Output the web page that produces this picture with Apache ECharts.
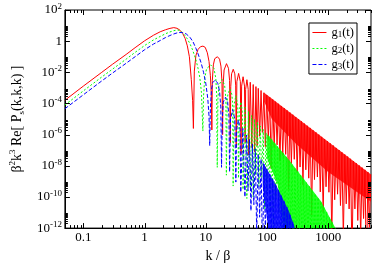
<!DOCTYPE html>
<html><head><meta charset="utf-8">
<script src="https://cdn.jsdelivr.net/npm/echarts@6/dist/echarts.min.js"></script>
<style>html,body{margin:0;padding:0;background:#fff}#c{width:374px;height:268px}</style>
</head><body><div id="c"></div>
<script>
// ---- tick labels ----
const xTickValues = [0.1, 1, 10, 100, 1000];
const xTickLabels = ['0.1', '1', '10', '100', '1000'];
const xMinorDecades = [0.01, 0.1, 1, 10, 100, 1000];
const yTickExps = [2, 0, -2, -4, -6, -8, -10, -12];
const minorMantissas = [2, 3, 4, 5, 6, 7, 8, 9];
const seriesNames = ['g1(t)', 'g2(t)', 'g3(t)'];
const seriesColors = ['#ff0000', '#00ff00', '#0000ff'];

// ---- g1(t): [k/beta, value] ----
const g1Points = [
 [0.05,1.6e-4],[0.1,1.3e-3],[0.2,1.0e-2],[0.3,3.3e-2],[0.5,0.14],[0.7,0.38],[1.0,1.05],[1.4,2.4],[1.8,4.0],
 [2.2,5.4],[2.6,6.6],[3.0,7.4],[3.4,6.7],[3.8,5.0],[4.2,3.1],[4.6,1.5],[5.0,0.5],[5.4,0.1],[5.8,3.5e-3],[6.1,1.5e-4],[6.28,2.5e-6],
 [6.5,0.012],[6.9,0.12],[7.5,0.3],[8.2,0.44],[9.0,0.48],[9.8,0.4],[10.6,0.18],[11.3,0.05],[11.9,6e-3],[12.3,4e-4],[12.57,2e-6],
 [12.8,3e-3],[13.3,0.03],[14.0,0.075],[15.5,0.1],[16.8,0.07],[17.7,0.025],[18.4,2.5e-3],[18.85,1e-6],
 [19.2,1.5e-3],[19.9,0.014],[21.8,0.036],[23.5,0.018],[24.5,3e-3],[25.13,3e-7],
 [25.6,1.2e-3],[26.4,8e-3],[28.1,0.0157],[29.8,8e-3],[30.8,1.5e-3],[31.42,1.5e-7],
 [32.2,2.5e-3],[34.4,8.5e-3],[36.7,2.5e-3],[37.7,6e-8],
 [38.5,1.3e-3],[40.7,5.2e-3],[42.9,1.3e-3],[44.0,3e-7],
 [44.8,8e-4],[47.0,3.35e-3],[49.3,8e-4],[50.3,5e-8],
 [53.3,2.3e-3],[56.5,1.5e-7],[59.6,1.64e-3],[62.8,8e-8],[66,1.21e-3],[69.1,2e-7],
 [72,9.3e-4],[76,7.9e-7],[80,6.8e-4],[84,1.4e-6],[89,4.9e-4],[94,1.7e-7],[99,3.5e-4],[105,4.8e-7],
 [111,2.5e-4],[117,6.8e-9],[124,1.8e-4],[131,1.5e-7],[138,1.3e-4],[146,2.2e-7],[154,9.5e-5],[163,2.0e-8],
 [171,6.9e-5],[181,4.7e-8],[191,5.0e-5],[202,5.4e-8],[213,3.6e-5],[225,3.1e-10],[237,2.6e-5],[250,1.4e-8],
 [264,1.9e-5],[279,2.6e-8],[295,1.35e-5],[311,3.6e-9],[328,9.8e-6],[347,8.3e-9],[366,7.1e-6],[387,6.0e-10],
 [408,5.1e-6],[431,5.5e-9],[455,3.7e-6],[481,1.6e-9],[507,2.7e-6],[536,7e-12],[565,1.9e-6],[597,1.3e-9],
 [630,1.4e-6],[666,1.9e-9],[702,1.0e-6],[742,2.1e-10],[782,7.2e-7],[827,9.8e-12],[872,5.2e-7],[922,4.5e-10],
 [972,3.8e-7],[1027,2.0e-10],[1083,2.7e-7],[1145,2.3e-13],[1207,2.0e-7],[1276,6.6e-11],[1346,1.4e-7],[1422,1.5e-10],
 [1500,1.03e-7],[1585,2.8e-11],[1672,7.4e-8],[1767,2e-13],[1864,5.3e-8],[1970,3.6e-11],[2078,3.9e-8],[2196,1.7e-11],
 [2316,2.8e-8],[2448,8e-15],[2582,2.0e-8],[2729,1.7e-11],[2878,1.45e-8],[3042,3.1e-12],[3208,1.05e-8],[3391,2.8e-13],
 [3576,7.6e-9],[3780,4.1e-12],[3986,5.5e-9],[4214,5e-16],[4443,4.0e-9],[4697,1.1e-12],[4953,2.8e-9],[5000,2.7e-9]
];
// dense (unresolved) part of g1: upper edge and lower edge of the filled band
const g1BandTop = [[90,4.8e-4],[5000,2.8e-9]];
const g1BandBottom = [[5000,5e-11],[1000,4e-9],[300,2.5e-7],[120,1e-5],[90,1.3e-4]];

// ---- g2(t) ----
const g2Points = [
 [0.05,8e-5],[0.1,6.4e-4],[0.2,5.0e-3],[0.3,1.6e-2],[0.5,0.07],[0.7,0.19],[1.0,0.52],[1.4,1.2],[1.8,2.0],
 [2.2,3.0],[2.6,3.9],[3.0,4.7],[3.5,5.3],[4.0,4.0],[4.5,2.5],[5.0,1.4],[5.5,0.7],[6.0,0.32],[6.5,0.13],
 [7.0,0.052],[7.5,0.017],[8.0,4.5e-3],[8.5,5e-4],[8.97,1.7e-6],
 [9.2,3e-4],[9.6,4e-3],[10.3,0.017],[12.0,0.03],[13.6,0.018],[14.6,4e-3],[15.1,3e-4],[15.4,8e-9],
 [15.8,2e-4],[16.4,1.5e-3],[18.4,3.5e-3],[20.3,1.5e-3],[21.3,2e-4],[21.7,2.5e-9],
 [22.4,1.5e-4],[23.0,4e-4],[24.8,8.5e-4],[26.6,4e-4],[27.4,1.2e-4],[28.0,5e-10],
 [28.9,8e-5],[31.0,3.2e-4],[33.3,8e-5],[34.3,1.6e-9],
 [35.2,3e-5],[37.4,1.26e-4],[39.6,3e-5],[40.6,3e-10],
 [43.7,5.9e-5],[46.9,8e-11],[50.0,3.1e-5],[53.2,4e-10],[56.3,1.7e-5],[59.5,1e-10],
 [62.6,1.0e-5],[66.1,2.5e-9],[69.8,6.0e-6],[73.7,4.8e-10],[77.8,3.6e-6],[82.2,1.8e-9],[86.7,2.2e-6],[91.6,1.7e-11],
 [96.7,1.3e-6],[102,1.7e-10],[107.8,7.9e-7],[114,2e-11],[120,4.8e-7],[127,3.8e-13],[134,2.9e-7],[141,7.2e-11],
 [149,1.7e-7],[157,8.7e-12],[166,1.05e-7],[175,8e-15],[185,6.3e-8],[195,7.9e-12],[207,3.8e-8],[219,3e-13],
 [230,2.3e-8],[243,1.8e-12],[257,1.3e-8],[271,1e-14],[286,7.6e-9],[302,6e-14],[319,4.4e-9],[337,3.5e-13],
 [356,2.5e-9],[376,2e-15],[397,1.4e-9],[419,3e-14],[442,8.3e-10],[467,1e-13],[493,4.8e-10],[521,1e-13],
 [549,2.8e-10],[580,1e-13],[612,1.6e-10],[646,1e-13],[683,9.1e-11],[721,1e-13],[761,5.2e-11],[804,1e-13],
 [848,2.4e-11],[895,1e-13],[945,1.1e-11],[998,1e-13],[1054,4.9e-12],[1113,1e-13],[1175,2.2e-12],[1240,1e-13],
 [1310,1e-12],[1400,1e-13]
];
const g2BandTop = [[100,1.1e-6],[228,2.4e-8],[762,5.2e-11],[1312,1e-12]];
const g2BandBottom = [[1312,1e-12],[190,1e-12],[150,6e-10],[100,3e-8]];

// ---- g3(t) ----
const g3Points = [
 [0.05,4.6e-5],[0.1,3.6e-4],[0.2,2.8e-3],[0.3,9e-3],[0.5,0.038],[0.7,0.1],[1.0,0.28],[1.4,0.65],[1.8,1.1],
 [2.2,1.7],[2.6,2.3],[3.0,2.9],[3.4,3.4],[3.8,3.6],[4.2,3.5],[4.8,2.9],[5.5,1.8],[6.2,0.9],[6.9,0.35],
 [7.6,0.13],[8.4,0.04],[9.2,0.01],[10.0,2e-3],[10.8,2e-4],[11.3,1.5e-5],[11.6,2e-7],
 [11.9,5e-5],[12.4,8e-4],[13.0,2.2e-3],[14.3,3.2e-3],[15.7,2e-3],[16.8,6e-4],[17.6,6e-5],[18.1,8e-9],
 [18.6,1e-5],[19.3,1.2e-4],[21.0,2.5e-4],[22.8,1.2e-4],[23.9,1.5e-5],[24.5,4e-9],
 [25.4,1e-5],[27.5,4e-5],[29.8,1e-5],[31.0,9e-10],
 [32.0,2.2e-6],[34.0,9e-6],[36.3,2.2e-6],[37.3,2e-10],
 [40.3,2.5e-6],[43.6,1e-10],
 [46.5,9.5e-7],[49,2.5e-10],[51.8,4.9e-7],[54.7,1.3e-11],[57.8,2.5e-7],[61,3.2e-11],[64.4,1.2e-7],[68,3e-13],
 [71.8,5.7e-8],[75.8,5e-12],[80,2.7e-8],[84.5,1e-14],[89.2,1.3e-8],[94.2,6e-13],[99.5,6e-9],[105,1e-14],
 [111,2.9e-9],[117,3e-13],[124,1.35e-9],[131,1e-14],[138,6.4e-10],[146,1e-14],[154,2.7e-10],[163,1e-14],
 [171,1.2e-10],[181,1e-14],[191,5.1e-11],[202,1e-14],[213,2.2e-11],[225,1e-14],[237,8.2e-12],[250,1e-14],
 [264,2.5e-12],[279,1e-14],[295,7.4e-13]
];
const g3BandTop = [[85,1.8e-8],[141,5.6e-10],[228,1.26e-11],[287,1e-12]];
const g3BandBottom = [[287,1e-12],[105,1e-12],[85,5e-10]];

const X_MIN = 0.05, X_MAX = 5000, Y_MIN = 1e-12, Y_MAX = 1e2;
const serif = 'Liberation Serif';

// tick marks (inward, on all four sides)
const tickData = [];
xTickValues.forEach(v => { tickData.push([v, Y_MIN, 0, 5]); tickData.push([v, Y_MAX, 1, 5]); });
xMinorDecades.forEach(d => minorMantissas.forEach(m => {
  const v = +(d * m).toPrecision(3);
  if (v > X_MIN * 0.999 && v < X_MAX * 1.001) { tickData.push([v, Y_MIN, 0, 3]); tickData.push([v, Y_MAX, 1, 3]); }
}));
yTickExps.forEach(e => {
  const v = Math.pow(10, e);
  tickData.push([X_MIN, v, 2, 5]); tickData.push([X_MAX, v, 3, 5]);
  minorMantissas.forEach(m => {
    const mv = m * v;
    if (mv < Y_MAX) { tickData.push([X_MIN, mv, 2, 3]); tickData.push([X_MAX, mv, 3, 3]); }
  });
});

function bandSeries(name, top, bottom, color, opacity, z) {
  return {
    type: 'custom', name: name, silent: true, clip: true, z: z, animation: false,
    data: [top[0]], encode: { x: 0, y: 1 },
    renderItem: (params, api) => ({
      type: 'polygon',
      shape: { points: top.concat(bottom).map(p => api.coord(p)) },
      style: { fill: color, opacity: opacity }
    })
  };
}
function lineSeries(i, points, dash, z) {
  return {
    type: 'line', name: seriesNames[i], data: points, symbol: 'none', showSymbol: false,
    z: z, animation: false, clip: true,
    lineStyle: { color: seriesColors[i], width: 1, type: dash },
    itemStyle: { color: seriesColors[i] }
  };
}

const chart = echarts.init(document.getElementById('c'), null, { renderer: 'canvas', width: 374, height: 268 });
chart.setOption({
  animation: false,
  backgroundColor: '#fff',
  grid: { left: 54, right: 2, top: 10, bottom: 30, show: true, borderColor: '#000', borderWidth: 1, backgroundColor: 'transparent' },
  legend: {
    data: seriesNames, orient: 'vertical', right: 17, top: 23,
    itemWidth: 14, itemHeight: 8, itemGap: 3, padding: [3, 3, 3, 3],
    borderColor: '#000', borderWidth: 1, backgroundColor: '#fff', borderRadius: 0,
    itemStyle: { opacity: 0 },
    lineStyle: { width: 1 },
    formatter: n => n.replace(/^g(\d)/, 'g{sb|$1}'),
    textStyle: { fontFamily: serif, fontSize: 12.5, color: '#000',
      rich: { sb: { fontFamily: serif, fontSize: 9, verticalAlign: 'bottom', color: '#000' } } }
  },
  xAxis: {
    type: 'log', logBase: 10, min: X_MIN, max: X_MAX,
    axisLine: { show: true, lineStyle: { color: '#000', width: 1 } },
    axisTick: { show: false }, splitLine: { show: false }, minorTick: { show: false },
    axisLabel: {
      margin: 3, fontFamily: serif, fontSize: 13, color: '#000', hideOverlap: false,
      formatter: v => {
        const i = xTickValues.findIndex(t => Math.abs(Math.log10(t) - Math.log10(v)) < 1e-6);
        return i >= 0 ? xTickLabels[i] : '';
      }
    },
    name: 'k / β', nameLocation: 'middle', nameGap: 13,
    nameTextStyle: { fontFamily: serif, fontSize: 14, color: '#000' }
  },
  yAxis: {
    type: 'log', logBase: 10, min: Y_MIN, max: Y_MAX, interval: 2,
    axisLine: { show: true, lineStyle: { color: '#000', width: 1 } },
    axisTick: { show: false }, splitLine: { show: false }, minorTick: { show: false },
    axisLabel: {
      margin: 3, color: '#000', hideOverlap: false,
      formatter: v => {
        const e = Math.round(Math.log10(v));
        if (!yTickExps.includes(e)) return '';
        return e === 0 ? '{b|1}' : '{b|10}{s|' + e + '}';
      },
      rich: {
        b: { fontFamily: serif, fontSize: 13, color: '#000', lineHeight: 16 },
        s: { fontFamily: serif, fontSize: 9, color: '#000', verticalAlign: 'top', lineHeight: 16 }
      }
    },
    name: 'β{sp|2}k{sp|3} Re[ P{sb|s}(k,k,k) ]', nameLocation: 'middle', nameGap: 31,
    nameTextStyle: { fontFamily: serif, fontSize: 14, color: '#000', lineHeight: 18,
      rich: {
        sp: { fontFamily: serif, fontSize: 9, color: '#000', verticalAlign: 'top', lineHeight: 18 },
        sb: { fontFamily: serif, fontSize: 9, color: '#000', verticalAlign: 'bottom', lineHeight: 18 }
      } }
  },
  series: [
    bandSeries('g1band', g1BandTop, g1BandBottom, seriesColors[0], 0.85, 2),
    lineSeries(0, g1Points, 'solid', 3),
    bandSeries('g2band', g2BandTop, g2BandBottom, seriesColors[1], 0.85, 4),
    lineSeries(1, g2Points, [2, 2], 5),
    bandSeries('g3band', g3BandTop, g3BandBottom, seriesColors[2], 0.85, 6),
    lineSeries(2, g3Points, [4, 2], 7),
    {
      type: 'custom', name: 'ticks', silent: true, z: 20, animation: false, clip: false,
      data: tickData, encode: { x: 0, y: 1 },
      renderItem: (params, api) => {
        const p = api.coord([api.value(0), api.value(1)]);
        const dir = api.value(2), len = api.value(3);
        let x1 = p[0], y1 = p[1];
        if (dir < 2) x1 = Math.round(x1) + 0.5; else y1 = Math.round(y1) + 0.5;
        let x2 = x1, y2 = y1;
        if (dir === 0) y2 -= len; else if (dir === 1) y2 += len; else if (dir === 2) x2 += len; else x2 -= len;
        return { type: 'line', shape: { x1: x1, y1: y1, x2: x2, y2: y2 }, style: { stroke: '#000', lineWidth: 1 } };
      }
    }
  ]
});
</script></body></html>
